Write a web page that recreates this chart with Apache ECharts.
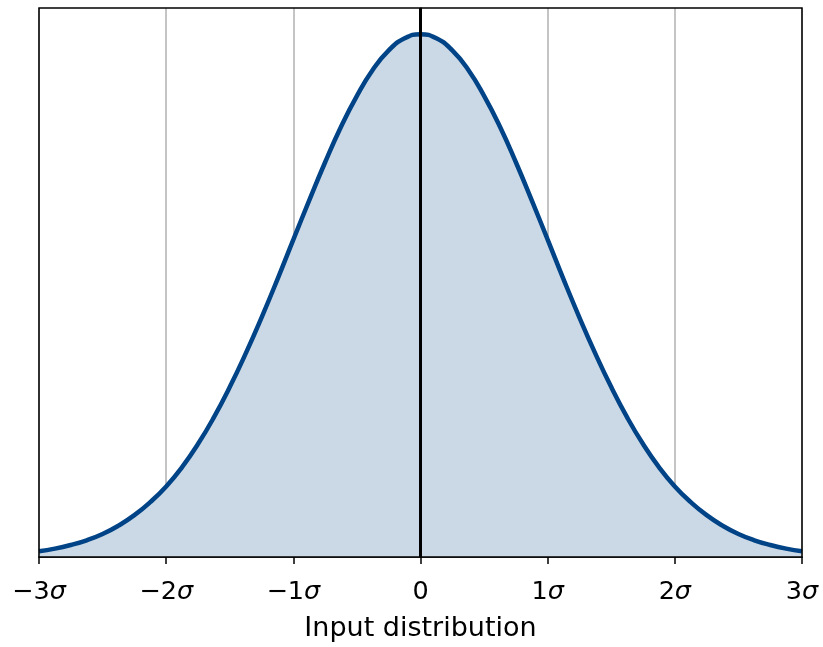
<!DOCTYPE html>
<html>
<head>
<meta charset="utf-8">
<script src="https://cdn.jsdelivr.net/npm/echarts@6/dist/echarts.min.js"></script>
<style>html,body{margin:0;padding:0;background:#fff}#c{width:823px;height:647px}</style>
</head>
<body>
<div id="c"></div>
<script>
// x positions in units of sigma
var xSigma = [-3,-2.875,-2.75,-2.625,-2.5,-2.375,-2.25,-2.125,-2,-1.875,-1.75,-1.625,-1.5,-1.375,-1.25,-1.125,-1,-0.875,-0.75,-0.625,-0.5,-0.375,-0.25,-0.125,0,0.125,0.25,0.375,0.5,0.625,0.75,0.875,1,1.125,1.25,1.375,1.5,1.625,1.75,1.875,2,2.125,2.25,2.375,2.5,2.625,2.75,2.875,3];
// relative density (peak = 1)
var density = [0.011,0.016,0.023,0.032,0.044,0.060,0.080,0.105,0.135,0.172,0.216,0.267,0.325,0.389,0.458,0.531,0.607,0.682,0.755,0.823,0.882,0.932,0.969,0.992,1.0,0.992,0.969,0.932,0.882,0.823,0.755,0.682,0.607,0.531,0.458,0.389,0.325,0.267,0.216,0.172,0.135,0.105,0.080,0.060,0.044,0.032,0.023,0.016,0.011];
var tickValues = [-3,-2,-1,0,1,2,3];
var tickNumbers = ['\u22123','\u22122','\u22121','0','1','2','3'];
var tickSuffix = ['σ','σ','σ','','σ','σ','σ'];
var xLabel = 'Input distribution';

var data = xSigma.map(function(x,i){return [x, density[i]];});
var chart = echarts.init(document.getElementById('c'), null, {renderer:'canvas'});
chart.setOption({
  animation:false,
  backgroundColor:'#ffffff',
  grid:{left:39,right:21,top:8,bottom:88,show:true,borderColor:'#000',borderWidth:1.5,backgroundColor:'transparent',z:10},
  xAxis:{
    type:'value',min:-3,max:3,interval:1,
    name:xLabel,nameLocation:'middle',nameGap:58,
    nameTextStyle:{fontFamily:'DejaVu Sans',fontSize:27,color:'#000'},
    axisLine:{show:true,lineStyle:{color:'#000',width:1.5}},
    axisTick:{show:true,length:7,lineStyle:{color:'#000',width:1.5}},
    axisLabel:{
      margin:22,fontFamily:'DejaVu Sans',fontSize:25.5,color:'#000',
      formatter:function(v){
        var i = tickValues.indexOf(Math.round(v));
        if(i<0) return '';
        return tickSuffix[i] ? tickNumbers[i]+'{s|'+tickSuffix[i]+'}' : tickNumbers[i];
      },
      rich:{s:{fontFamily:'DejaVu Sans',fontSize:25.5,fontStyle:'italic',color:'#000'}}
    },
    splitLine:{show:true,lineStyle:{color:'#b0b0b0',width:1.5}}
  },
  yAxis:{
    type:'value',min:0,max:1.05,
    axisLine:{show:true,lineStyle:{color:'#000',width:1.5}},
    axisTick:{show:false},axisLabel:{show:false},splitLine:{show:false}
  },
  series:[{
    type:'line',data:data,smooth:true,showSymbol:false,
    lineStyle:{color:'#004386',width:4.5},
    areaStyle:{color:'#cbd9e6',opacity:1},
    z:3,
    markLine:{
      silent:true,symbol:['none','none'],label:{show:false},
      lineStyle:{color:'#000',width:3,type:'solid'},
      data:[{xAxis:0}],z:5
    }
  }]
});
</script>
</body>
</html>
